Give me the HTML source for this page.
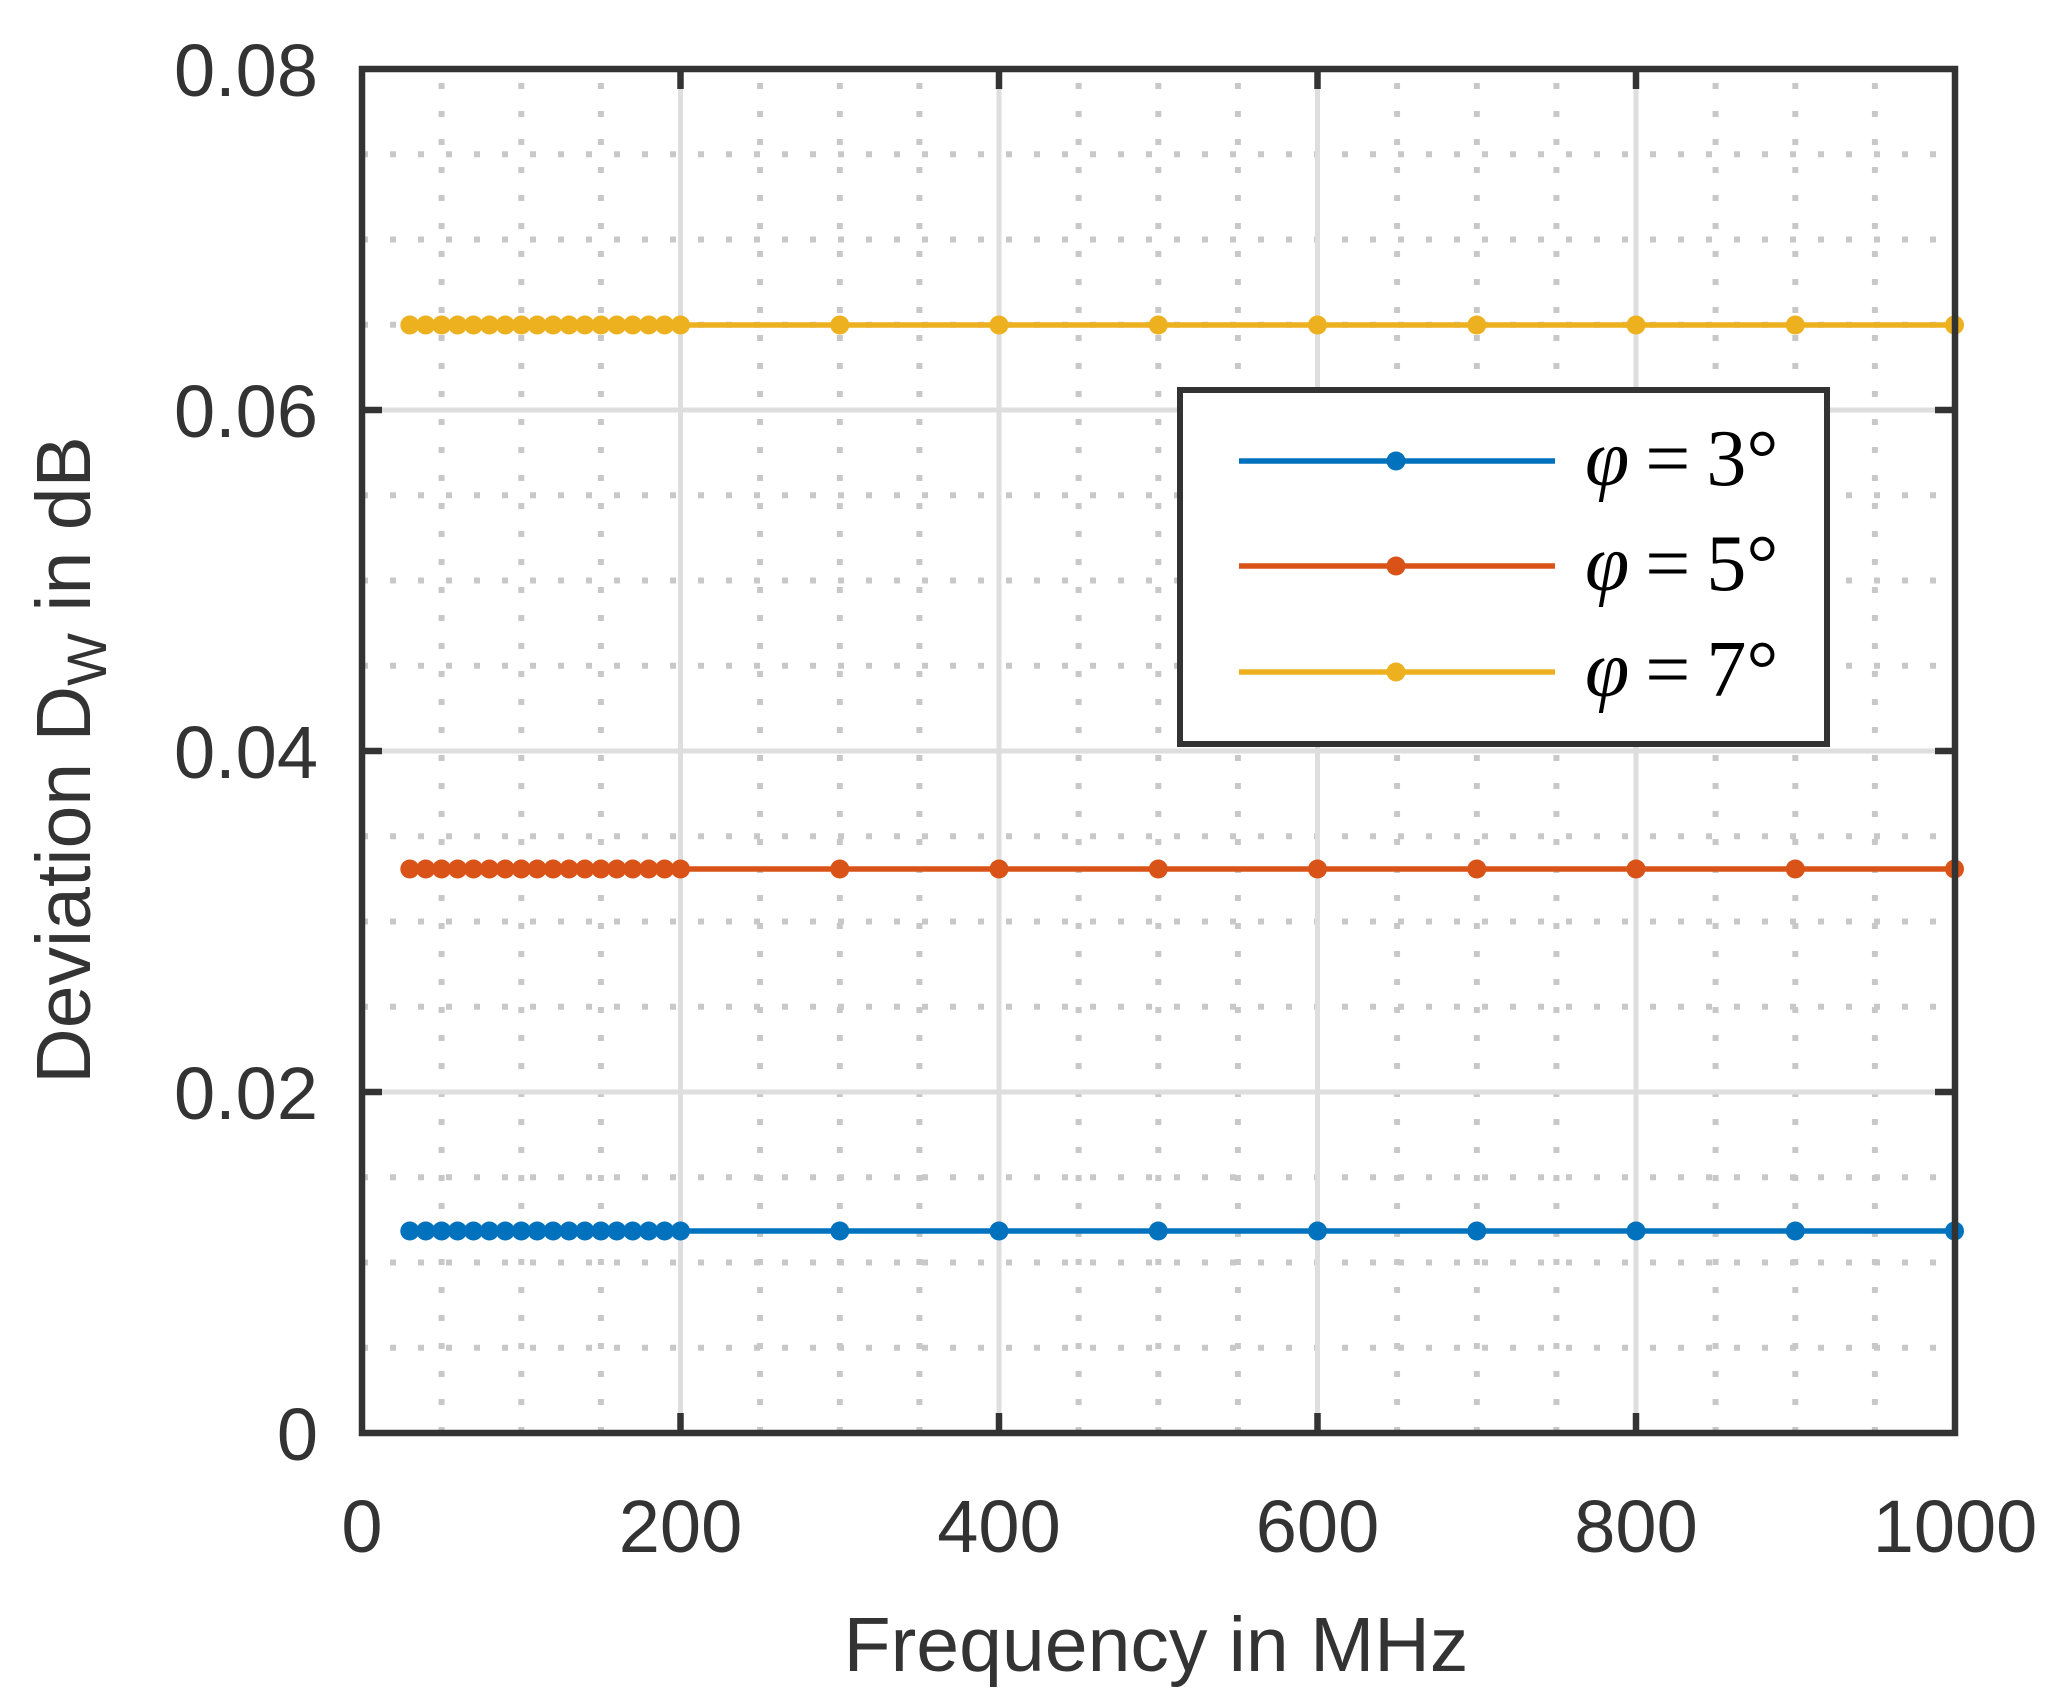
<!DOCTYPE html>
<html><head><meta charset="utf-8"><style>html,body{margin:0;padding:0;background:#fff}svg{display:block}</style></head><body>
<svg width="2067" height="1708" viewBox="0 0 2067 1708" xmlns="http://www.w3.org/2000/svg">
<defs>
<marker id="mb" markerUnits="userSpaceOnUse" markerWidth="24" markerHeight="24" refX="12" refY="12"><circle cx="12" cy="12" r="9.5" fill="#0072BD"/></marker>
<marker id="mo" markerUnits="userSpaceOnUse" markerWidth="24" markerHeight="24" refX="12" refY="12"><circle cx="12" cy="12" r="9.5" fill="#D95319"/></marker>
<marker id="my" markerUnits="userSpaceOnUse" markerWidth="24" markerHeight="24" refX="12" refY="12"><circle cx="12" cy="12" r="9.5" fill="#EDB120"/></marker>
</defs>
<rect width="2067" height="1708" fill="#fff"/>
<g stroke="#c8c8c8" stroke-width="6" stroke-dasharray="6 22">
<path d="M441.6 1433V69M521.3 1433V69M600.9 1433V69M760.1 1433V69M839.8 1433V69M919.4 1433V69M1078.6 1433V69M1158.3 1433V69M1237.9 1433V69M1397.1 1433V69M1476.8 1433V69M1556.4 1433V69M1715.6 1433V69M1795.3 1433V69M1874.9 1433V69"/>
<path d="M362 1347.8H1955M362 1262.5H1955M362 1177.3H1955M362 1006.8H1955M362 921.5H1955M362 836.3H1955M362 665.8H1955M362 580.5H1955M362 495.3H1955M362 324.8H1955M362 239.5H1955M362 154.3H1955"/>
</g>
<g stroke="#dedede" stroke-width="5">
<path d="M680.5 1433V69M999 1433V69M1317.5 1433V69M1636 1433V69M362 1092H1955M362 751H1955M362 410H1955"/>
</g>
<g fill="none" stroke-width="5.5">
<polyline stroke="#EDB120" marker-start="url(#my)" marker-mid="url(#my)" marker-end="url(#my)" points="409.8,325 425.7,325 441.6,325 457.6,325 473.5,325 489.4,325 505.3,325 521.3,325 537.2,325 553.1,325 569,325 584.9,325 600.9,325 616.8,325 632.7,325 648.7,325 664.6,325 680.5,325 839.8,325 999,325 1158.3,325 1317.5,325 1476.8,325 1636,325 1795.3,325 1954.5,325"/>
<polyline stroke="#D95319" marker-start="url(#mo)" marker-mid="url(#mo)" marker-end="url(#mo)" points="409.8,869 425.7,869 441.6,869 457.6,869 473.5,869 489.4,869 505.3,869 521.3,869 537.2,869 553.1,869 569,869 584.9,869 600.9,869 616.8,869 632.7,869 648.7,869 664.6,869 680.5,869 839.8,869 999,869 1158.3,869 1317.5,869 1476.8,869 1636,869 1795.3,869 1954.5,869"/>
<polyline stroke="#0072BD" marker-start="url(#mb)" marker-mid="url(#mb)" marker-end="url(#mb)" points="409.8,1231 425.7,1231 441.6,1231 457.6,1231 473.5,1231 489.4,1231 505.3,1231 521.3,1231 537.2,1231 553.1,1231 569,1231 584.9,1231 600.9,1231 616.8,1231 632.7,1231 648.7,1231 664.6,1231 680.5,1231 839.8,1231 999,1231 1158.3,1231 1317.5,1231 1476.8,1231 1636,1231 1795.3,1231 1954.5,1231"/>
</g>
<g stroke="#333" stroke-width="6.5" fill="none">
<rect x="362" y="69" width="1593" height="1364"/>
<path d="M680.5 1433v-20M999 1433v-20M1317.5 1433v-20M1636 1433v-20M680.5 69v20M999 69v20M1317.5 69v20M1636 69v20"/>
<path d="M362 1092h20M362 751h20M362 410h20M1955 1092h-20M1955 751h-20M1955 410h-20"/>
</g>
<g font-family="Liberation Sans, sans-serif" font-size="74" fill="#333">
<g text-anchor="end">
<text x="318" y="96">0.08</text>
<text x="318" y="437">0.06</text>
<text x="318" y="778">0.04</text>
<text x="318" y="1119">0.02</text>
<text x="318" y="1460">0</text>
</g>
<g text-anchor="middle">
<text x="362" y="1552">0</text>
<text x="680.5" y="1552">200</text>
<text x="999" y="1552">400</text>
<text x="1317.5" y="1552">600</text>
<text x="1636" y="1552">800</text>
<text x="1955" y="1552">1000</text>
<text x="1156" y="1671" font-size="77">Frequency in MHz</text>
</g>
<text transform="translate(90,760) rotate(-90)" text-anchor="middle" font-size="77">Deviation D<tspan font-size="56" dy="16">W</tspan><tspan dy="-16"> in dB</tspan></text>
</g>
<rect x="1180" y="390" width="647" height="354" fill="#fff" stroke="#333" stroke-width="6"/>
<g stroke-width="5.5">
<line x1="1239" y1="461" x2="1555" y2="461" stroke="#0072BD"/><circle cx="1396" cy="461" r="9.5" fill="#0072BD"/>
<line x1="1239" y1="566" x2="1555" y2="566" stroke="#D95319"/><circle cx="1396" cy="566" r="9.5" fill="#D95319"/>
<line x1="1239" y1="672" x2="1555" y2="672" stroke="#EDB120"/><circle cx="1396" cy="672" r="9.5" fill="#EDB120"/>
</g>
<g font-family="Liberation Serif, serif" font-size="80" fill="#000">
<text x="1585" y="485"><tspan font-style="italic">φ</tspan><tspan dx="16">=</tspan><tspan dx="16">3°</tspan></text>
<text x="1585" y="590"><tspan font-style="italic">φ</tspan><tspan dx="16">=</tspan><tspan dx="16">5°</tspan></text>
<text x="1585" y="696"><tspan font-style="italic">φ</tspan><tspan dx="16">=</tspan><tspan dx="16">7°</tspan></text>
</g>
</svg>
</body></html>
